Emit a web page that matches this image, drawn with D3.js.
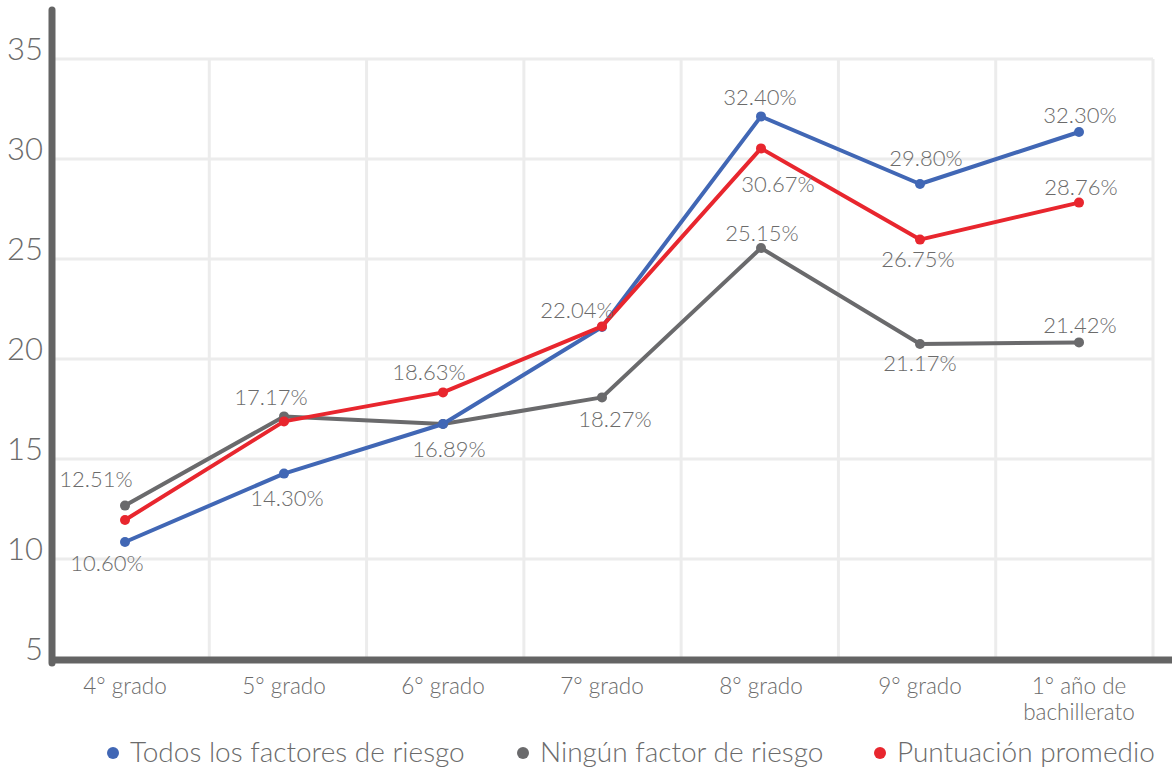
<!DOCTYPE html>
<html><head><meta charset="utf-8">
<script src="https://cdn.jsdelivr.net/npm/d3@7"></script>
<style>body{margin:0;background:#fff}svg{display:block}text{font-family:Lato,"Open Sans",sans-serif;fill:#6b6b6b;font-weight:300}</style>
</head><body><svg id="c" width="1172" height="767"></svg>
<script>
const categories = ["4° grado","5° grado","6° grado","7° grado","8° grado","9° grado","1° año de\nbachillerato"];
const seriesNames = ["Todos los factores de riesgo","Ningún factor de riesgo","Puntuación promedio"];
const todosValues   = [10.85, 14.27, 16.75, 21.6, 32.13, 28.75, 31.35];
const ningunValues  = [12.67, 17.13, 16.75, 18.08, 25.55, 20.75, 20.83];
const promedioValues= [11.95, 16.88, 18.33, 21.63, 30.53, 25.97, 27.82];
const todosLabels   = ["10.60%","14.30%","16.89%","22.04%","32.40%","29.80%","32.30%"];
const ningunLabels  = ["12.51%","17.17%",null,"18.27%","25.15%","21.17%","21.42%"];
const promedioLabels= [null,null,"18.63%",null,"30.67%","26.75%","28.76%"];
const yTicks = [5,10,15,20,25,30,35];

// layout (label offsets from their point, in px)
const labelOffsets = [
  [[-18,29],[3,32],[6,33],[-25,-9],[-1,-11],[6,-18],[1,-9]],
  [[-29,-19],[-13,-11],[0,0],[13,30],[1,-7],[0,27],[1,-9]],
  [[0,0],[0,0],[-14,-12],[0,0],[17,44],[-2,27],[2,-8]]
];
const colors = ["#4167b5","#6a6a6c","#e8262e"];

const svg = d3.select("#c");
const x0 = 52, x1 = 1153;
const xBand = d3.scaleBand().domain(categories).range([x0, x1]);
const xPt = d3.scalePoint().domain(categories).range([125, 1079]);
const y = d3.scaleLinear().domain([5, 35]).range([659, 59]);

// grid
const g = svg.append("g");
g.selectAll("line.h").data(yTicks.slice(1)).enter().append("line")
  .attr("x1", x0).attr("x2", x1).attr("y1", d=>y(d)).attr("y2", d=>y(d))
  .attr("stroke","#ececec").attr("stroke-width",3);
const bounds = categories.map(c => xBand(c) + xBand.bandwidth());
g.selectAll("line.v").data(bounds).enter().append("line")
  .attr("x1", d=>d).attr("x2", d=>d).attr("y1", y(35)).attr("y2", y(5))
  .attr("stroke","#ececec").attr("stroke-width",3);

// y tick labels
svg.append("g").selectAll("text").data(yTicks).enter().append("text")
  .attr("x", 43).attr("y", d=>y(d)+1).attr("text-anchor","end")
  .style("font-size","31px").text(d=>d);

// x labels
const xl = svg.append("g").selectAll("text").data(categories).enter().append("text")
  .attr("text-anchor","middle").style("font-size","22.5px");
xl.each(function(d){
  const parts = d.split("\n");
  const t = d3.select(this);
  parts.forEach((p,i)=>t.append("tspan").attr("x", xPt(d)).attr("y", 694 + i*26).text(p));
});

// axes lines
svg.append("line").attr("x1",x0).attr("x2",1172).attr("y1",660).attr("y2",660)
  .attr("stroke","#646464").attr("stroke-width",7);
svg.append("line").attr("x1",x0).attr("x2",x0).attr("y1",y(37.45)).attr("y2",663)
  .attr("stroke","#646464").attr("stroke-width",7).attr("stroke-linecap","round");

// series
const allVals = [todosValues, ningunValues, promedioValues];
const allLabels = [todosLabels, ningunLabels, promedioLabels];
const line = d3.line().x((d,i)=>xPt(categories[i])).y(d=>y(d));
const order = [1,0,2];
order.forEach(s=>{
  svg.append("path").attr("d", line(allVals[s])).attr("fill","none")
    .attr("stroke", colors[s]).attr("stroke-width",4).attr("stroke-linejoin","round");
  svg.append("g").selectAll("circle").data(allVals[s]).enter().append("circle")
    .attr("cx",(d,i)=>xPt(categories[i])).attr("cy",d=>y(d)).attr("r",5).attr("fill",colors[s]);
});
[0,1,2].forEach(s=>{
  svg.append("g").selectAll("text").data(allLabels[s].map((l,i)=>({l,i})).filter(d=>d.l))
    .enter().append("text")
    .attr("x", d=>xPt(categories[d.i]) + labelOffsets[s][d.i][0])
    .attr("y", d=>y(allVals[s][d.i]) + labelOffsets[s][d.i][1])
    .attr("text-anchor","middle").style("font-size","22px")
    .text(d=>d.l);
});

// legend
const legX = [113, 523, 880];
const lg = svg.append("g");
seriesNames.forEach((n,i)=>{
  lg.append("circle").attr("cx",legX[i]).attr("cy",753).attr("r",6).attr("fill",colors[i]);
  lg.append("text").attr("x",legX[i]+17).attr("y",762).style("font-size","28px").text(n);
});
</script></body></html>
